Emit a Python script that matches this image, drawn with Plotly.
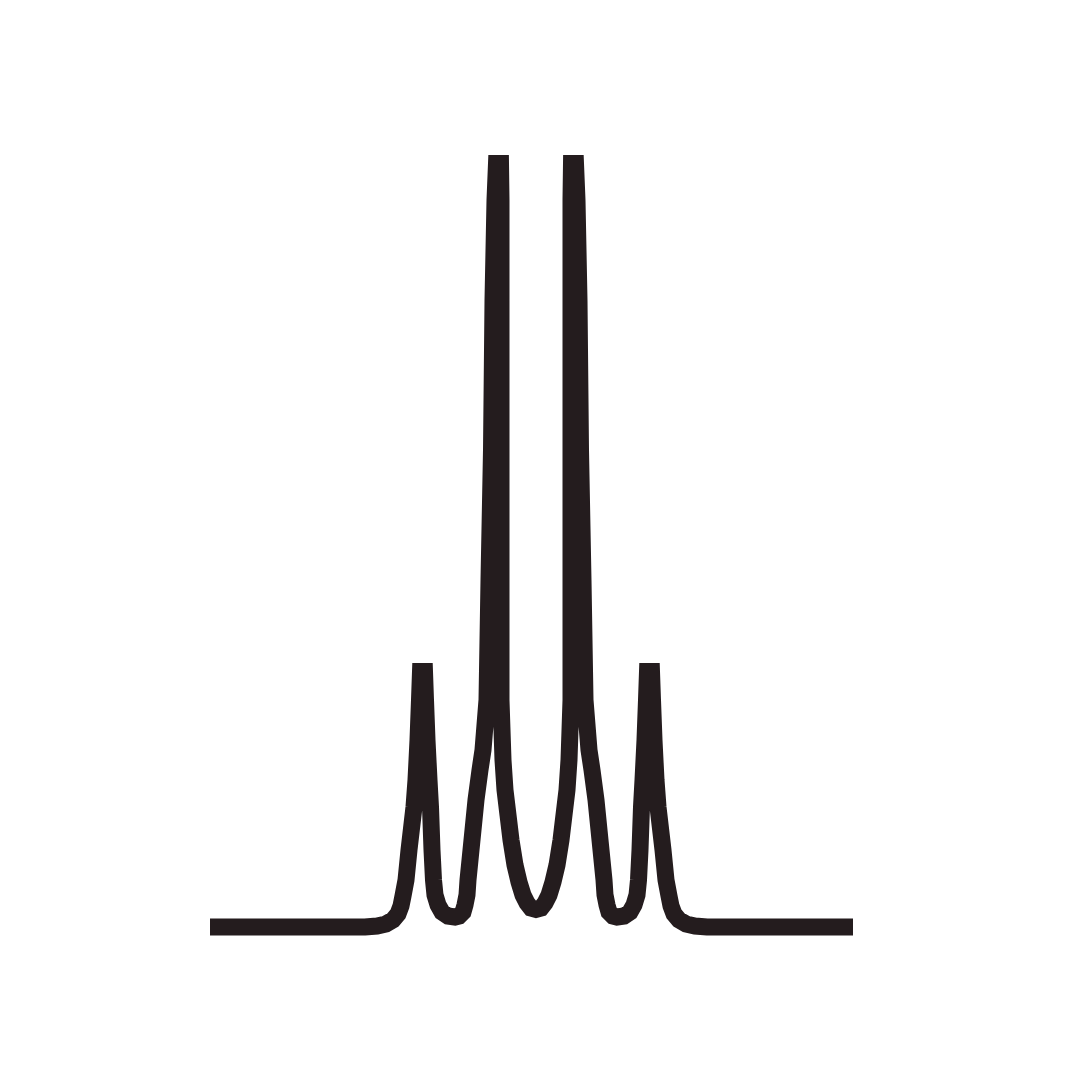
import plotly.graph_objects as go

# Traced spectrum outline (horizontal position, signal intensity), left half then right half
shift_left = [210, 365, 377, 386, 393, 398, 401, 403, 406, 409,
              414, 416, 418, 419.5, 420.5, 424.5, 425.5, 427, 429, 430.5,
              432, 433.5, 435, 438, 442, 448, 455, 459, 463, 465,
              467, 468, 470, 473, 476, 480, 483, 487, 489, 491.5,
              493, 495, 496.5, 500.5, 501, 501, 501, 503, 505, 508,
              511, 515, 519, 523, 527, 531, 536]
intensity_left = [153, 153, 154, 156, 160, 166, 174, 184, 200, 230,
                  273, 300, 340, 380, 408.5, 408.5, 380, 340, 300, 273,
                  230, 200, 185, 175, 168, 164, 163, 164, 168, 175,
                  185, 200, 220, 250, 280, 310, 330, 380, 500, 630,
                  780, 880, 916.5, 916.5, 880, 630, 380, 320, 290, 265,
                  240, 215, 198, 185, 177, 172, 170.5]
shift_right = [541, 545, 549, 553, 557, 561, 564, 567, 569, 571,
               571, 571, 571.5, 575.5, 577, 579, 580.5, 583, 585, 589,
               592, 596, 599, 602, 604, 605, 607, 609, 613, 617,
               624, 630, 634, 637, 638.5, 640, 641.5, 643, 645, 646.5,
               647.5, 651.5, 652.5, 654, 656, 658, 663, 666, 669, 671,
               674, 679, 686, 695, 707, 853]
intensity_right = [172, 177, 185, 198, 215, 240, 265, 290, 320, 380,
                   630, 880, 916.5, 916.5, 880, 780, 630, 500, 380, 330,
                   310, 280, 250, 220, 200, 185, 175, 168, 164, 163,
                   164, 168, 175, 185, 200, 230, 273, 300, 340, 380,
                   408.5, 408.5, 380, 340, 300, 273, 230, 200, 184, 174,
                   166, 160, 156, 154, 153, 153]

fig = go.Figure()
fig.add_trace(go.Scatter(
    x=shift_left + shift_right,
    y=intensity_left + intensity_right,
    mode="lines",
    line=dict(color="#241c1e", width=17, shape="linear", simplify=False),
    hoverinfo="skip",
    showlegend=False,
))

fig.update_layout(
    width=1080, height=1080,
    margin=dict(l=0, r=0, t=0, b=0),
    paper_bgcolor="white", plot_bgcolor="white",
    xaxis=dict(range=[0, 1080], visible=False, fixedrange=True),
    yaxis=dict(range=[0, 1080], visible=False, fixedrange=True),
)

fig.write_html("out.html", config={"displayModeBar": False})
